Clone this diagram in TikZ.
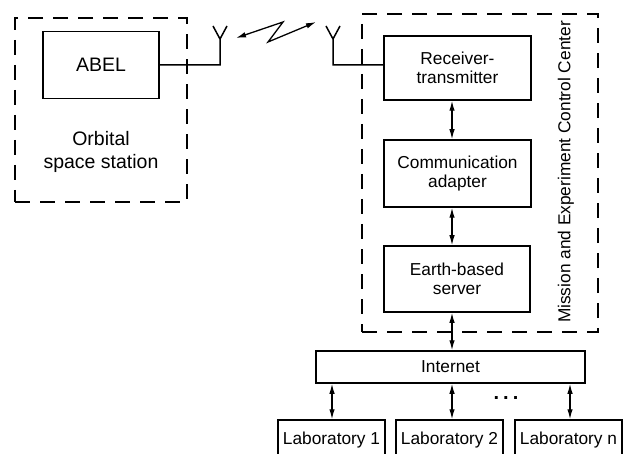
\documentclass[tikz,border=0pt]{standalone}
\usepackage{fontspec}
\setmainfont{Liberation Sans}
\usetikzlibrary{arrows.meta}
\begin{document}
\begin{tikzpicture}[x=1pt,y=-1pt,
  blk/.style={draw, line width=1.5pt, inner sep=0pt, align=center,
    font=\fontsize{17.3}{18.5}\selectfont},
  dbox/.style={draw, line width=1.5pt, dash pattern=on 15pt off 10pt, inner sep=0pt},
  wire/.style={line width=1.5pt},
  biarrow/.style={line width=1.3pt,
    {Latex[length=10pt,width=5.5pt]}-{Latex[length=10pt,width=5.5pt]}},
  txt/.style={inner sep=0pt, align=center}]
\clip (0,0) rectangle (623,454);
\fill[white] (0,0) rectangle (623,454);

% containers
\node[dbox, minimum width=172pt, minimum height=184pt] (osbox) at (101,110) {};
\node[dbox, minimum width=236pt, minimum height=318pt] (mcc) at (480,173) {};

% left station
\node[blk, minimum width=116pt, minimum height=67pt, font=\fontsize{19.5}{23}\selectfont] (abel) at (101,65) {ABEL};
\node[txt, font=\fontsize{19.5}{23}\selectfont] (orb) at (101,152) {Orbital\\space station};

% control center blocks
\node[blk, minimum width=147pt, minimum height=64pt] (rt) at (457.5,68) {Receiver-\\transmitter};
\node[blk, minimum width=147pt, minimum height=67pt] (ca) at (457.5,173.5) {Communication\\adapter};
\node[blk, minimum width=146pt, minimum height=66pt] (es) at (457,279) {Earth-based\\server};
\node[txt, rotate=90, font=\fontsize{17.3}{18}\selectfont] (mcclab) at (566,172) {Mission and Experiment Control Center};

% internet and labs
\node[blk, minimum width=269pt, minimum height=32pt] (inet) at (450.5,367) {Internet};
\node[blk, minimum width=107pt, minimum height=40pt] (lab1) at (331.5,440) {Laboratory 1};
\node[blk, minimum width=107pt, minimum height=40pt] (lab2) at (449.5,440) {Laboratory 2};
\node[blk, minimum width=107pt, minimum height=40pt] (labn) at (568.5,440) {Laboratory n};
\node[txt, font=\fontsize{20}{20}\bfseries] (dots) at (506,398) {.\hspace{4pt}.\hspace{4pt}.};

% antennas
\coordinate (a1b) at (220,65);
\coordinate (a1t) at (220,39);
\coordinate (a1l) at (213,26);
\coordinate (a1r) at (227,26);
\coordinate (a2b) at (333,65);
\coordinate (a2t) at (333,39);
\coordinate (a2l) at (326,26);
\coordinate (a2r) at (340,26);
\draw[wire] (abel.east |- a1b) -- (a1b) -- (a1t) -- (a1l);
\draw[wire] (a1t) -- (a1r);
\draw[wire] (rt.west |- a2b) -- (a2b) -- (a2t) -- (a2l);
\draw[wire] (a2t) -- (a2r);

% radio link
\coordinate (l1) at (236,38);
\coordinate (l2) at (283,22);
\coordinate (l3) at (268,42);
\coordinate (l4) at (316,22);
\draw[biarrow] (l1) -- (l2) -- (l3) -- (l4);

% vertical links
\coordinate (cx) at (452,0);
\draw[biarrow] (rt.south -| cx) -- (ca.north -| cx);
\draw[biarrow] (ca.south -| cx) -- (es.north -| cx);
\draw[biarrow] (es.south -| cx) -- (inet.north -| cx);
\coordinate (c1) at (332,0);
\coordinate (cn) at (570,0);
\draw[biarrow] (inet.south -| c1) -- (lab1.north -| c1);
\draw[biarrow] (inet.south -| cx) -- (lab2.north -| cx);
\draw[biarrow] (inet.south -| cn) -- (labn.north -| cn);
\end{tikzpicture}
\end{document}
